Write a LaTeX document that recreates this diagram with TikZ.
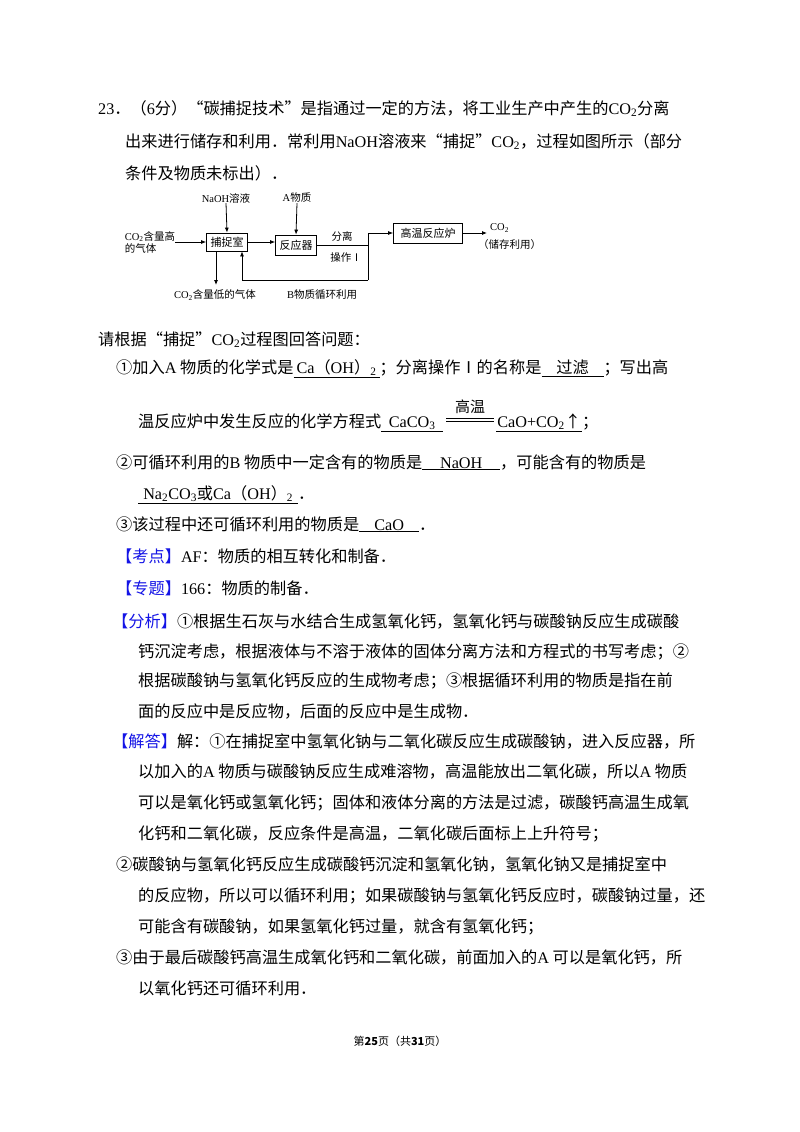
\documentclass[tikz,border=0pt]{standalone}
\usepackage{fontspec}
\setmainfont{Noto Sans CJK SC}
\newfontfamily\lat{Liberation Serif}
\usetikzlibrary{arrows.meta}
\newcommand{\tm}[1]{{\lat #1}}
\newcommand{\ub}[2]{\underline{\makebox[#1]{#2}}}
\definecolor{kblue}{RGB}{20,20,230}
\begin{document}
\begin{tikzpicture}[x=1pt,y=-1pt,
  ln/.style={anchor=base west,inner sep=0pt,font=\fontsize{16.2}{20}\selectfont},
  dl/.style={inner sep=0pt,font=\fontsize{10.5}{12}\selectfont},
  bx/.style={draw,line width=0.8pt,inner sep=0pt},
  ar/.style={-{Latex[length=5pt,width=4pt]},line width=0.8pt},
  pl/.style={line width=0.8pt}]
\useasboundingbox (0,0) rectangle (800,1132);
\fill[white] (0,0) rectangle (800,1132);
% intro
\node[ln] (l1) at (98,114) {\tm{23}．（\tm{6}分）“碳捕捉技术”是指通过一定的方法，将工业生产中产生的\tm{CO\textsubscript{2}}分离};
\node[ln] (l2) at (125,147) {出来进行储存和利用．常利用\tm{NaOH}溶液来“捕捉”\tm{CO\textsubscript{2}}，过程如图所示（部分};
\node[ln] (l3) at (125,179) {条件及物质未标出）．};
% diagram
\node[bx,minimum width=41,minimum height=18] (b1) at (227,242) {\fontsize{11}{12}\selectfont 捕捉室};
\node[bx,minimum width=41,minimum height=20] (b2) at (296,245) {\fontsize{11}{12}\selectfont 反应器};
\node[bx,minimum width=69,minimum height=20] (b3) at (428,233) {\fontsize{11}{12}\selectfont 高温反应炉};
\node[dl,align=left] (in) at (150,242) {\tm{CO\textsubscript{2}}含量高\\的气体};
\node[dl] (naoh) at (226,198) {\tm{NaOH}溶液};
\node[dl] (am) at (297,198) {\tm{A}物质};
\node[dl] (fl1) at (342,236) {分离};
\node[dl] (fl2) at (346,258) {操作Ⅰ};
\node[dl] (low) at (215,295) {\tm{CO\textsubscript{2}}含量低的气体};
\node[dl] (bm) at (322,295) {\tm{B}物质循环利用};
\node[dl,anchor=west] (co2) at (490,228) {\tm{CO\textsubscript{2}}};
\node[dl,anchor=west] (st) at (478,245) {（储存利用）};
\coordinate (s1) at (368,245);
\coordinate (s2) at (368,280);
\coordinate (s3) at (368,233);
\coordinate (r1) at (242,280);
\coordinate (lo) at (216,285);
\coordinate (oe) at (487,233);
\draw[ar] (in.east|-b1) -- (b1.west);
\draw[ar] (naoh.south) -- (b1.north);
\draw[ar] (am.south) -- (b2.north);
\draw[ar] (b1.east) -- (b2.west|-b1);
\draw[pl] (b2.east|-s1) -- (s1);
\draw[ar] (s2) -- (s3) -- (b3.west);
\draw[ar] (s2) -- (r1) -- (r1|-b1.south);
\draw[ar] (lo|-b1.south) -- (lo);
\draw[ar] (b3.east) -- (oe);
% questions
\node[ln] (q0) at (98,345) {请根据“捕捉”\tm{CO\textsubscript{2}}过程图回答问题：};
\node[ln] (q1) at (116,373) {①加入\tm{A} 物质的化学式是\ub{86pt}{\tm{Ca}（\tm{OH}）\tm{\textsubscript{2}}}；分离操作Ⅰ的名称是\ub{62pt}{过滤}；写出高};
\node[ln] (q2) at (138,427) {温反应炉中发生反应的化学方程式\ub{62pt}{\tm{CaCO\textsubscript{3}}}};
\node[inner sep=0pt,font=\fontsize{15}{16}\selectfont] (gw) at (470,407) {高温};
\draw[line width=0.6pt] (446,418) -- (494,418) (446,421) -- (494,421);
\node[ln] (q2b) at (496,427) {\ub{86pt}{\tm{CaO+CO\textsubscript{2}}↑}；};
\node[ln] (q3) at (116,468) {②可循环利用的\tm{B} 物质中一定含有的物质是\ub{78pt}{\tm{NaOH}}，可能含有的物质是};
\node[ln] (q4) at (138,499) {\ub{160pt}{\tm{Na\textsubscript{2}CO\textsubscript{3}}或\tm{Ca}（\tm{OH}）\tm{\textsubscript{2}}}．};
\node[ln] (q5) at (116,530) {③该过程中还可循环利用的物质是\ub{60pt}{\tm{CaO}}．};
\node[ln] (k1) at (116,562) {{\color{kblue}【考点】}\tm{AF}：物质的相互转化和制备．};
\node[ln] (k2) at (116,594) {{\color{kblue}【专题】}\tm{166}：物质的制备．};
\node[ln] (f1) at (112,627) {{\color{kblue}【分析】}①根据生石灰与水结合生成氢氧化钙，氢氧化钙与碳酸钠反应生成碳酸};
\node[ln] (f2) at (138,657) {钙沉淀考虑，根据液体与不溶于液体的固体分离方法和方程式的书写考虑；②};
\node[ln] (f3) at (138,686) {根据碳酸钠与氢氧化钙反应的生成物考虑；③根据循环利用的物质是指在前};
\node[ln] (f4) at (138,717) {面的反应中是反应物，后面的反应中是生成物．};
\node[ln] (j1) at (112,747) {{\color{kblue}【解答】}解：①在捕捉室中氢氧化钠与二氧化碳反应生成碳酸钠，进入反应器，所};
\node[ln] (j2) at (138,777) {以加入的\tm{A} 物质与碳酸钠反应生成难溶物，高温能放出二氧化碳，所以\tm{A} 物质};
\node[ln] (j3) at (138,808) {可以是氧化钙或氢氧化钙；固体和液体分离的方法是过滤，碳酸钙高温生成氧};
\node[ln] (j4) at (138,839) {化钙和二氧化碳，反应条件是高温，二氧化碳后面标上上升符号；};
\node[ln] (j5) at (116,870) {②碳酸钠与氢氧化钙反应生成碳酸钙沉淀和氢氧化钠，氢氧化钠又是捕捉室中};
\node[ln] (j6) at (138,901) {的反应物，所以可以循环利用；如果碳酸钠与氢氧化钙反应时，碳酸钠过量，还};
\node[ln] (j7) at (138,932) {可能含有碳酸钠，如果氢氧化钙过量，就含有氢氧化钙；};
\node[ln] (j8) at (116,963) {③由于最后碳酸钙高温生成氧化钙和二氧化碳，前面加入的\tm{A} 可以是氧化钙，所};
\node[ln] (j9) at (138,994) {以氧化钙还可循环利用．};
\node[inner sep=0pt,font=\fontsize{11}{12}\selectfont] (ft) at (400,1041) {第\textbf{25}页（共\textbf{31}页）};
\end{tikzpicture}
\end{document}
